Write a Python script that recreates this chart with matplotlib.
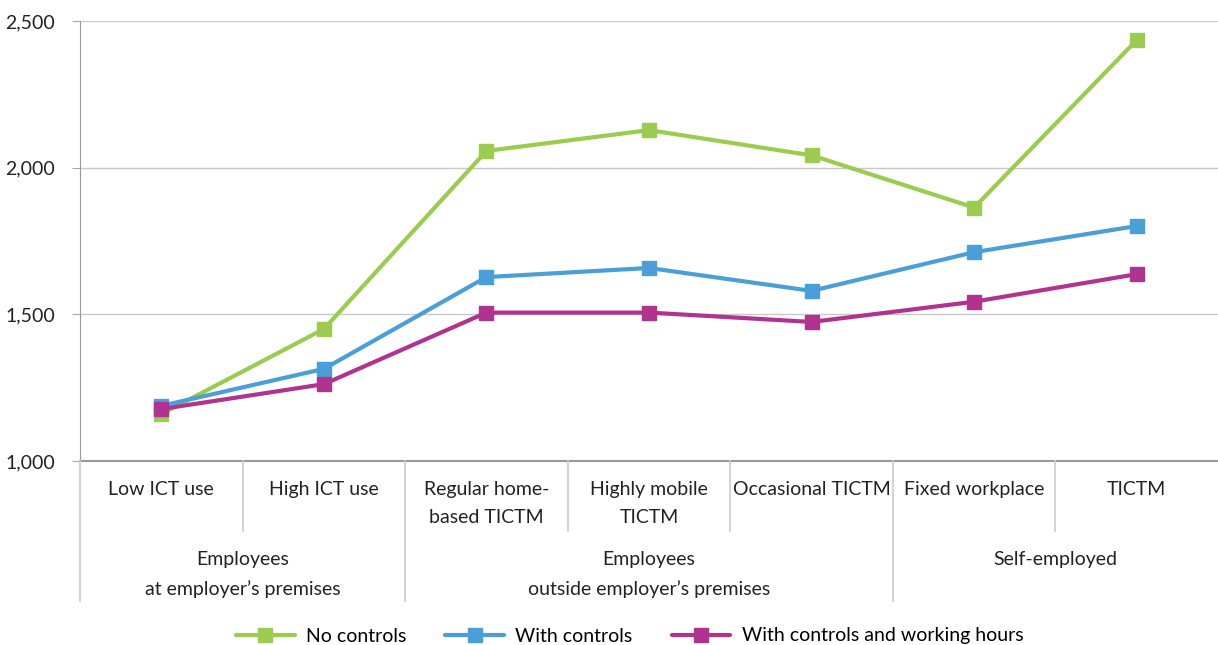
import matplotlib
matplotlib.use("Agg")
import matplotlib.pyplot as plt
from matplotlib.transforms import blended_transform_factory
from matplotlib.lines import Line2D

plt.rcParams['font.family'] = ['Lato', 'DejaVu Sans']

categories = ["Low ICT use", "High ICT use", "Regular home-\nbased TICTM", "Highly mobile\nTICTM",
              "Occasional TICTM", "Fixed workplace", "TICTM"]
groups = ["Employees\nat employer\u2019s premises", "Employees\noutside employer\u2019s premises", "Self-employed"]
group_spans = [(0, 1), (2, 4), (5, 6)]

no_controls = [1160, 1450, 2057, 2128, 2042, 1864, 2435]
with_controls = [1188, 1314, 1627, 1658, 1580, 1712, 1801]
with_controls_hours = [1177, 1262, 1506, 1506, 1474, 1543, 1637]

series_names = ["No controls", "With controls", "With controls and working hours"]
colors = ["#9BCB4F", "#4A9FD8", "#B0348F"]

W, H = 1218, 645
FS = 14
fig = plt.figure(figsize=(W / 100, H / 100), dpi=100)
ax = fig.add_axes([80 / W, 1 - 461 / H, 1 - 80 / W, 440 / H])

x = list(range(len(categories)))
for vals, name, c in zip([no_controls, with_controls, with_controls_hours], series_names, colors):
    ax.plot(x, vals, color=c, lw=3, marker='s', markersize=10, label=name, solid_capstyle='round')

ax.set_xlim(-0.5, 6.5)
ax.set_ylim(1000, 2500)
ax.set_yticks([1000, 1500, 2000, 2500])
ax.set_yticklabels(["1,000", "1,500", "2,000", "2,500"], fontsize=FS, color="#222222")
ax.yaxis.grid(True, color="#c8c8c8", lw=1)
ax.set_axisbelow(True)
ax.set_xticks([])
ax.tick_params(axis='y', length=6, color="#aaaaaa", pad=12)
for s in ['top', 'right']:
    ax.spines[s].set_visible(False)
ax.spines['left'].set_color("#999999")
ax.spines['bottom'].set_color("#999999")
ax.spines['bottom'].set_linewidth(1.5)

tr = blended_transform_factory(ax.transData, fig.transFigure)
def fy(py):
    return 1 - py / H

for i, lab in enumerate(categories):
    ax.text(i, fy(481), lab, transform=tr, ha='center', va='top', fontsize=FS,
            color="#222222", linespacing=1.8, clip_on=False)

for (a, b), g in zip(group_spans, groups):
    ax.text((a + b) / 2, fy(551), g, transform=tr, ha='center', va='top', fontsize=FS,
            color="#222222", linespacing=1.8, clip_on=False)

for xb in [0.5, 2.5, 3.5, 5.5]:
    fig.add_artist(Line2D([xb, xb], [fy(461), fy(531)], transform=tr, color="#cccccc", lw=1.2))
for xb in [-0.5, 1.5, 4.5]:
    fig.add_artist(Line2D([xb, xb], [fy(461), fy(601)], transform=tr, color="#cccccc", lw=1.2))

fig.legend(loc='center', bbox_to_anchor=(0.517, 1 - 636 / H), ncol=3, frameon=False,
           fontsize=FS, handlelength=3.0, columnspacing=2.0, handletextpad=0.6)

fig.savefig("out.png", dpi=100)
